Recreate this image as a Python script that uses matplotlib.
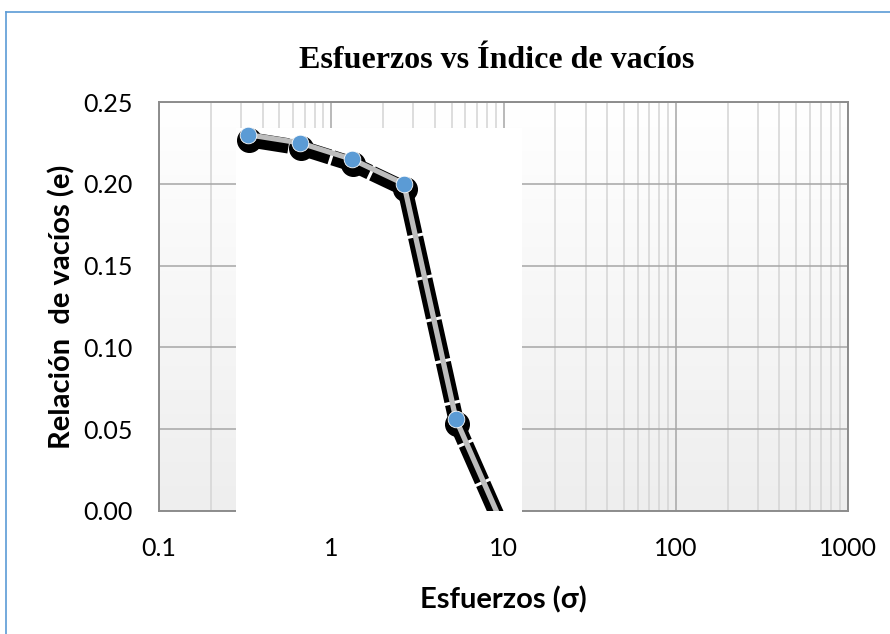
import numpy as np
import matplotlib
matplotlib.use("Agg")
import matplotlib.pyplot as plt
import matplotlib.transforms as mtransforms
from matplotlib.patches import Rectangle
from matplotlib.ticker import LogLocator, FixedLocator, NullFormatter

# ---- data ----
esfuerzos = [0.33, 0.66, 1.32, 2.64, 5.3, 10.6]
relacion_vacios = [0.230, 0.225, 0.215, 0.200, 0.056, -0.016]
x_ticks = [0.1, 1, 10, 100, 1000]
x_tick_labels = ["0.1", "1", "10", "100", "1000"]
y_ticks = [0.00, 0.05, 0.10, 0.15, 0.20, 0.25]
y_tick_labels = ["0.00", "0.05", "0.10", "0.15", "0.20", "0.25"]

title = "Esfuerzos vs Índice de vacíos"
xlabel = "Esfuerzos (σ)"
ylabel = "Relación  de vacíos (e)"

W, H = 890, 634
fig = plt.figure(figsize=(W / 100, H / 100), dpi=100)
fig.patch.set_facecolor("white")

L, R, B, T = 159, 848, 511, 102
ax = fig.add_axes([L / W, (H - B) / H, (R - L) / W, (B - T) / H])
ax.set_xscale("log")
ax.set_xlim(0.1, 1000)
ax.set_ylim(0, 0.25)

# gradient background
grad = np.linspace(0, 1, 256).reshape(-1, 1)
ax.imshow(grad, extent=[0, 1, 0, 1], transform=ax.transAxes, aspect="auto",
          cmap=matplotlib.colors.LinearSegmentedColormap.from_list("g", ["#eeeeee", "#ffffff"]),
          origin="lower", zorder=0)
ax.set_facecolor("white")

# grid
ax.xaxis.set_major_locator(FixedLocator(x_ticks))
ax.xaxis.set_minor_locator(LogLocator(base=10, subs=np.arange(2, 10), numticks=20))
ax.xaxis.set_minor_formatter(NullFormatter())
ax.set_xticks(x_ticks)
ax.set_xticklabels(x_tick_labels)
ax.set_yticks(y_ticks)
ax.set_yticklabels(y_tick_labels)
ax.grid(True, which="major", axis="both", color="#a6a6a6", linewidth=1.1, zorder=0.5)
ax.grid(True, which="minor", axis="x", color="#d4d4d4", linewidth=1.1, zorder=0.5)
ax.set_axisbelow(True)
for s in ax.spines.values():
    s.set_color("#8c8c8c")
    s.set_linewidth(1.4)

ax.tick_params(axis="both", which="both", length=0)
ax.tick_params(axis="x", pad=19)
ax.tick_params(axis="y", pad=19)
for lab in ax.get_xticklabels() + ax.get_yticklabels():
    lab.set_fontfamily("Lato")
    lab.set_fontsize(18)
    lab.set_color("#000000")

# white occluding box
box = Rectangle((0.1118, -0.02), 0.4152, 0.957, transform=ax.transAxes,
                facecolor="white", edgecolor="none", zorder=2.6, clip_on=False)
ax.add_patch(box)

# shadow (offset down)
shadow_tr = ax.transData + mtransforms.ScaledTranslation(1 / 100, -5 / 100, fig.dpi_scale_trans)
ax.plot(esfuerzos, relacion_vacios, color="black", linewidth=11, dashes=(2.6, 0.2),
        solid_capstyle="butt", dash_capstyle="butt", transform=shadow_tr, zorder=3)
ax.plot(esfuerzos, relacion_vacios, linestyle="none", marker="o", markersize=17,
        markerfacecolor="black", markeredgecolor="black", transform=shadow_tr, zorder=3.1)

# main line + markers
ax.plot(esfuerzos, relacion_vacios, color="#bdbdbd", linewidth=3.8, zorder=4)
ax.plot(esfuerzos, relacion_vacios, linestyle="none", marker="o", markersize=12,
        markerfacecolor="#5b9bd5", markeredgecolor="white", markeredgewidth=0.6, zorder=5)

# labels
fig.text(497 / W, 1 - 60 / H, title, ha="center", va="center",
         fontfamily="Liberation Serif", fontweight="bold", fontsize=23)
fig.text(503 / W, 1 - 600 / H, xlabel, ha="center", va="center",
         fontfamily="Lato", fontweight="bold", fontsize=21)
fig.text(62 / W, 1 - 307 / H, ylabel, ha="center", va="center", rotation=90,
         fontfamily="Lato", fontweight="bold", fontsize=21)

# chart border (blue)
fig.add_artist(plt.Line2D([6 / W, 6 / W], [0, 1 - 12 / H], color="#5b9bd5", linewidth=1.2))
fig.add_artist(plt.Line2D([6 / W, 1], [1 - 12 / H, 1 - 12 / H], color="#5b9bd5", linewidth=1.2))

fig.savefig("out.png", dpi=100, facecolor="white")
